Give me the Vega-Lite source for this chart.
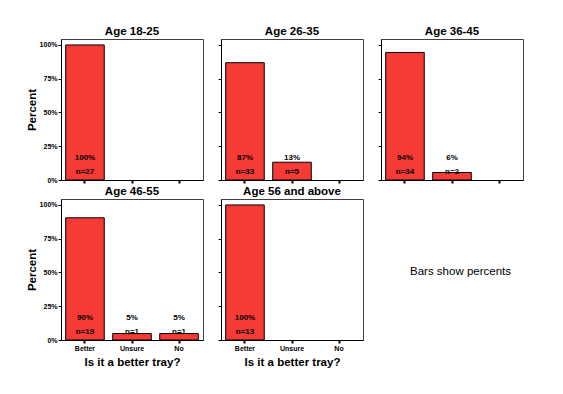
{
  "$schema": "https://vega.github.io/schema/vega-lite/v6.json",
  "background": "white",
  "padding": {"left": 25, "top": 25, "right": 5, "bottom": 5},
  "datasets": {
    "survey": [
      {"age": "Age 18-25", "answer": "Better", "pct": 1.0, "n": 27, "nlabel": "n=27"},
      {"age": "Age 26-35", "answer": "Better", "pct": 0.8684, "n": 33, "nlabel": "n=33"},
      {"age": "Age 26-35", "answer": "Unsure", "pct": 0.1316, "n": 5, "nlabel": "n=5"},
      {"age": "Age 36-45", "answer": "Better", "pct": 0.9444, "n": 34, "nlabel": "n=34"},
      {"age": "Age 36-45", "answer": "Unsure", "pct": 0.0556, "n": 2, "nlabel": "n=2"},
      {"age": "Age 46-55", "answer": "Better", "pct": 0.9048, "n": 19, "nlabel": "n=19"},
      {"age": "Age 46-55", "answer": "Unsure", "pct": 0.0476, "n": 1, "nlabel": "n=1"},
      {"age": "Age 46-55", "answer": "No", "pct": 0.0476, "n": 1, "nlabel": "n=1"},
      {"age": "Age 56 and above", "answer": "Better", "pct": 1.0, "n": 13, "nlabel": "n=13"}
    ],
    "note": [{"note": "Bars show percents"}]
  },
  "columns": 3,
  "spacing": {"row": 19, "column": 18},
  "bounds": "flush",
  "concat": [
    {
      "title": "Age 18-25",
      "width": 142, "height": 141,
      "data": {"name": "survey"},
      "transform": [{"filter": {"field": "age", "equal": "Age 18-25"}}],
      "encoding": {
        "x": {"field": "answer", "type": "nominal", "sort": ["Better", "Unsure", "No"],
              "scale": {"domain": ["Better", "Unsure", "No"], "paddingInner": 0.18, "paddingOuter": 0.1},
              "axis": {"labels": false, "title": null}}
      },
      "layer": [
        {"mark": {"type": "bar"},
         "encoding": {"y": {"field": "pct", "type": "quantitative", "scale": {"domain": [0, 1.044], "nice": false},
                            "axis": {"values": [0, 0.25, 0.5, 0.75, 1], "format": ".0%", "title": "Percent"}}}},
        {"mark": {"type": "text"},
         "encoding": {"y": {"datum": 0.165, "type": "quantitative", "axis": {"values": [0, 0.25, 0.5, 0.75, 1], "format": ".0%", "title": "Percent"}}, "text": {"field": "pct", "format": ".0%"}}},
        {"mark": {"type": "text"},
         "encoding": {"y": {"datum": 0.0615, "type": "quantitative", "axis": {"values": [0, 0.25, 0.5, 0.75, 1], "format": ".0%", "title": "Percent"}}, "text": {"field": "nlabel"}}}
      ]
    },
    {
      "title": "Age 26-35",
      "width": 142, "height": 141,
      "data": {"name": "survey"},
      "transform": [{"filter": {"field": "age", "equal": "Age 26-35"}}],
      "encoding": {
        "x": {"field": "answer", "type": "nominal", "sort": ["Better", "Unsure", "No"],
              "scale": {"domain": ["Better", "Unsure", "No"], "paddingInner": 0.18, "paddingOuter": 0.1},
              "axis": {"labels": false, "title": null}}
      },
      "layer": [
        {"mark": {"type": "bar"},
         "encoding": {"y": {"field": "pct", "type": "quantitative", "scale": {"domain": [0, 1.044], "nice": false},
                            "axis": {"values": [0, 0.25, 0.5, 0.75, 1], "labels": false, "title": null}}}},
        {"mark": {"type": "text"},
         "encoding": {"y": {"datum": 0.165, "type": "quantitative", "axis": {"values": [0, 0.25, 0.5, 0.75, 1], "labels": false, "title": null}}, "text": {"field": "pct", "format": ".0%"}}},
        {"mark": {"type": "text"},
         "encoding": {"y": {"datum": 0.0615, "type": "quantitative", "axis": {"values": [0, 0.25, 0.5, 0.75, 1], "labels": false, "title": null}}, "text": {"field": "nlabel"}}}
      ]
    },
    {
      "title": "Age 36-45",
      "width": 142, "height": 141,
      "data": {"name": "survey"},
      "transform": [{"filter": {"field": "age", "equal": "Age 36-45"}}],
      "encoding": {
        "x": {"field": "answer", "type": "nominal", "sort": ["Better", "Unsure", "No"],
              "scale": {"domain": ["Better", "Unsure", "No"], "paddingInner": 0.18, "paddingOuter": 0.1},
              "axis": {"labels": false, "title": null}}
      },
      "layer": [
        {"mark": {"type": "bar"},
         "encoding": {"y": {"field": "pct", "type": "quantitative", "scale": {"domain": [0, 1.044], "nice": false},
                            "axis": {"values": [0, 0.25, 0.5, 0.75, 1], "labels": false, "title": null}}}},
        {"mark": {"type": "text"},
         "encoding": {"y": {"datum": 0.165, "type": "quantitative", "axis": {"values": [0, 0.25, 0.5, 0.75, 1], "labels": false, "title": null}}, "text": {"field": "pct", "format": ".0%"}}},
        {"mark": {"type": "text"},
         "encoding": {"y": {"datum": 0.0615, "type": "quantitative", "axis": {"values": [0, 0.25, 0.5, 0.75, 1], "labels": false, "title": null}}, "text": {"field": "nlabel"}}}
      ]
    },
    {
      "title": "Age 46-55",
      "width": 142, "height": 141,
      "data": {"name": "survey"},
      "transform": [{"filter": {"field": "age", "equal": "Age 46-55"}}],
      "encoding": {
        "x": {"field": "answer", "type": "nominal", "sort": ["Better", "Unsure", "No"],
              "scale": {"domain": ["Better", "Unsure", "No"], "paddingInner": 0.18, "paddingOuter": 0.1},
              "axis": {"title": "Is it a better tray?"}}
      },
      "layer": [
        {"mark": {"type": "bar"},
         "encoding": {"y": {"field": "pct", "type": "quantitative", "scale": {"domain": [0, 1.044], "nice": false},
                            "axis": {"values": [0, 0.25, 0.5, 0.75, 1], "format": ".0%", "title": "Percent"}}}},
        {"mark": {"type": "text"},
         "encoding": {"y": {"datum": 0.165, "type": "quantitative", "axis": {"values": [0, 0.25, 0.5, 0.75, 1], "format": ".0%", "title": "Percent"}}, "text": {"field": "pct", "format": ".0%"}}},
        {"mark": {"type": "text"},
         "encoding": {"y": {"datum": 0.0615, "type": "quantitative", "axis": {"values": [0, 0.25, 0.5, 0.75, 1], "format": ".0%", "title": "Percent"}}, "text": {"field": "nlabel"}}}
      ]
    },
    {
      "title": "Age 56 and above",
      "width": 142, "height": 141,
      "data": {"name": "survey"},
      "transform": [{"filter": {"field": "age", "equal": "Age 56 and above"}}],
      "encoding": {
        "x": {"field": "answer", "type": "nominal", "sort": ["Better", "Unsure", "No"],
              "scale": {"domain": ["Better", "Unsure", "No"], "paddingInner": 0.18, "paddingOuter": 0.1},
              "axis": {"title": "Is it a better tray?"}}
      },
      "layer": [
        {"mark": {"type": "bar"},
         "encoding": {"y": {"field": "pct", "type": "quantitative", "scale": {"domain": [0, 1.044], "nice": false},
                            "axis": {"values": [0, 0.25, 0.5, 0.75, 1], "labels": false, "title": null}}}},
        {"mark": {"type": "text"},
         "encoding": {"y": {"datum": 0.165, "type": "quantitative", "axis": {"values": [0, 0.25, 0.5, 0.75, 1], "labels": false, "title": null}}, "text": {"field": "pct", "format": ".0%"}}},
        {"mark": {"type": "text"},
         "encoding": {"y": {"datum": 0.0615, "type": "quantitative", "axis": {"values": [0, 0.25, 0.5, 0.75, 1], "labels": false, "title": null}}, "text": {"field": "nlabel"}}}
      ]
    },
    {
      "width": 142, "height": 141,
      "view": {"stroke": null},
      "data": {"name": "note"},
      "mark": {"type": "text", "fontSize": 11.5, "fontWeight": "normal"},
      "encoding": {
        "x": {"datum": 0.56, "type": "quantitative", "scale": {"domain": [0, 1]}, "axis": null},
        "y": {"datum": 0.482, "type": "quantitative", "scale": {"domain": [0, 1]}, "axis": null},
        "text": {"field": "note"}
      }
    }
  ],
  "config": {
    "view": {"stroke": "#404040", "strokeWidth": 1},
    "font": "Liberation Sans",
    "bar": {"fill": "#f63a36", "stroke": "black", "strokeWidth": 1},
    "text": {"font": "Liberation Sans", "fontSize": 8, "fontWeight": "bold", "color": "black", "align": "center", "baseline": "middle"},
    "title": {"font": "Liberation Sans", "fontSize": 11.5, "fontWeight": "bold", "color": "black", "offset": 2, "anchor": "middle"},
    "axis": {
      "grid": false,
      "labelFont": "Liberation Sans", "labelFontSize": 7, "labelFontWeight": "bold", "labelColor": "black",
      "labelPadding": 1,
      "tickColor": "black", "tickSize": 3,
      "domainColor": "black",
      "titleFont": "Liberation Sans", "titleFontSize": 11.5, "titleFontWeight": "bold", "titleColor": "black"
    },
    "axisX": {"labelAngle": 0, "tickWidth": 2, "titlePadding": 5},
    "axisY": {"titlePadding": 2}
  }
}
